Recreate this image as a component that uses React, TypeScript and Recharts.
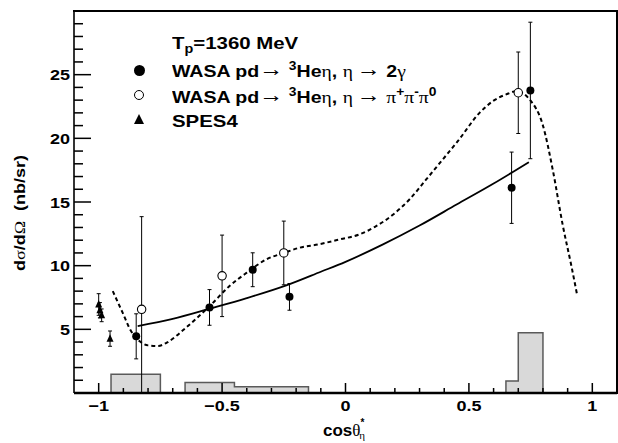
import React from 'react';
import {
  ComposedChart, XAxis, YAxis, Scatter, Line, Area, ErrorBar,
} from 'recharts';

// ---- data ----
const wasa2gX = [-0.848, -0.551, -0.376, -0.227, 0.673, 0.749];
const wasa2gY = [4.45, 6.72, 9.68, 7.55, 16.12, 23.76];
const wasa2gErr = [1.77, 1.4, 1.33, 1.05, 2.8, 5.36];

const wasa3piX = [-0.826, -0.5, -0.25, 0.7];
const wasa3piY = [6.57, 9.2, 11.0, 23.58];
const wasa3piErrLow = [6.57, 3.2, 2.5, 3.2];
const wasa3piErrHigh = [7.28, 3.2, 2.5, 3.2];

const spesX = [-1.0, -0.995, -0.988, -0.954];
const spesY = [6.95, 6.5, 6.1, 4.27];
const spesErr = [0.85, 0.6, 0.5, 0.6];

const fitX = [-0.842, -0.7, -0.55, -0.4, -0.24, -0.1, 0, 0.15, 0.3, 0.45, 0.6, 0.743];
const fitY = [5.26, 5.82, 6.62, 7.45, 8.45, 9.52, 10.3, 11.65, 13.15, 14.8, 16.45, 18.13];

const modelX = [-0.943, -0.903, -0.869, -0.835, -0.8, -0.76, -0.72, -0.66, -0.605, -0.55, -0.47, -0.4, -0.32, -0.25, -0.186, -0.11, -0.024, 0.057, 0.124, 0.192, 0.259, 0.327, 0.394, 0.455, 0.543, 0.597, 0.651, 0.692, 0.746, 0.8, 0.84, 0.88, 0.915, 0.938];
const modelY = [8.0, 6.31, 4.87, 4.08, 3.74, 3.69, 4.0, 4.9, 5.84, 6.83, 8.4, 9.45, 10.5, 11.0, 11.41, 11.67, 12.06, 12.46, 13.1, 14.0, 15.2, 16.77, 18.34, 19.78, 22.0, 22.92, 23.45, 23.7, 23.05, 21.0, 17.5, 13.2, 10.0, 7.75];

// acceptance histogram bins
const binLo = [-0.95, -0.65, -0.45, 0.65, 0.7];
const binHi = [-0.75, -0.45, -0.15, 0.7, 0.8];
const binH = [1.47, 0.82, 0.5, 0.94, 4.74];

const xTicks = [-1.0, -0.9, -0.8, -0.7, -0.6, -0.5, -0.4, -0.3, -0.2, -0.1, 0, 0.1, 0.2, 0.3, 0.4, 0.5, 0.6, 0.7, 0.8, 0.9, 1.0];
const yTicks = [1, 2, 3, 4, 5, 6, 7, 8, 9, 10, 11, 12, 13, 14, 15, 16, 17, 18, 19, 20, 21, 22, 23, 24, 25, 26, 27, 28, 29];
const xMajor = [-1, -0.5, 0, 0.5, 1];
const xMajorLabels = ['\u22121', '\u22120.5', '0', '0.5', '1'];
const yMajor = [5, 10, 15, 20, 25];

// ---- derived tables ----
const wasa2g = wasa2gX.map((x, i) => ({ x, y: wasa2gY[i], e: [wasa2gErr[i], wasa2gErr[i]] }));
const wasa3pi = wasa3piX.map((x, i) => ({ x, y: wasa3piY[i], e: [wasa3piErrLow[i], wasa3piErrHigh[i]] }));
const spes = spesX.map((x, i) => ({ x, y: spesY[i], e: [spesErr[i], spesErr[i]] }));
const fit = fitX.map((x, i) => ({ x, y: fitY[i] }));
const model = modelX.map((x, i) => ({ x, y: modelY[i] }));

const histFill: { x: number; y: number }[] = [];
const histOutline: { x: number; y: number | null }[] = [];
binLo.forEach((lo, i) => {
  const prevTouches = i > 0 && Math.abs(binHi[i - 1] - lo) < 1e-9;
  const nextTouches = i < binLo.length - 1 && Math.abs(binLo[i + 1] - binHi[i]) < 1e-9;
  if (!prevTouches) {
    histFill.push({ x: lo, y: 0 });
    histOutline.push({ x: lo, y: 0 });
  }
  histFill.push({ x: lo, y: binH[i] });
  histOutline.push({ x: lo, y: binH[i] });
  if (!nextTouches) {
    histFill.push({ x: binHi[i], y: 0 });
    histOutline.push({ x: binHi[i], y: 0 });
    histOutline.push({ x: binHi[i], y: null });
  }
});

const SANS = '"Liberation Sans", Arial, Helvetica, sans-serif';
const SERIF = '"Liberation Serif", "DejaVu Serif", serif';

// tick marks drawn as filled rects (inside the frame), labels outside
const XTick = (props: any) => {
  const { x, y, payload } = props;
  const v = payload.value;
  const mi = xMajor.findIndex((m) => Math.abs(m - v) < 1e-6);
  const major = mi >= 0;
  const len = major ? 10 : 5;
  return (
    <g>
      <rect x={x - 0.75} y={y - len} width={1.5} height={len} fill="#000" stroke="none" />
      {major && (
        <g transform={`translate(${x},${y + 18}) scale(1.2,1)`}>
          <text textAnchor="middle" fontFamily={SANS} fontWeight="bold" fontSize={15} fill="#000" stroke="none">
            {xMajorLabels[mi]}
          </text>
        </g>
      )}
    </g>
  );
};

const YTick = (props: any) => {
  const { x, y, payload } = props;
  const v = payload.value;
  const major = yMajor.includes(v);
  const len = major ? 17 : 9;
  return (
    <g>
      <rect x={x} y={y - 0.75} width={len} height={1.5} fill="#000" stroke="none" />
      {major && (
        <g transform={`translate(${x - 4},${y + 5.5}) scale(1.2,1)`}>
          <text textAnchor="end" fontFamily={SANS} fontWeight="bold" fontSize={15} fill="#000" stroke="none">
            {v}
          </text>
        </g>
      )}
    </g>
  );
};

const FilledDot = (p: any) => <circle cx={p.cx} cy={p.cy} r={4} fill="#000" />;
const OpenDot = (p: any) => <circle cx={p.cx} cy={p.cy} r={4.2} fill="#fff" stroke="#000" strokeWidth={1.1} />;
const Tri = (p: any) => (
  <polygon points={`${p.cx},${p.cy - 4.5} ${p.cx - 3.5},${p.cy + 3} ${p.cx + 3.5},${p.cy + 3}`} fill="#000" />
);

// ---- HTML text overlays ----
const lineStyle = (top: number, sx: number): React.CSSProperties => ({
  position: 'absolute', left: 172, top, fontFamily: SANS, fontWeight: 'bold', fontSize: 17,
  lineHeight: '17px', whiteSpace: 'nowrap', transform: `scaleX(${sx})`, transformOrigin: '0 0', color: '#000',
});
const symS: React.CSSProperties = { fontFamily: SERIF, fontWeight: 'normal' };
const arrS: React.CSSProperties = { fontFamily: SERIF, fontWeight: 'normal', fontSize: 21, position: 'relative', top: -1 };
const supS: React.CSSProperties = { fontSize: 12, position: 'relative', top: -7 };
const subS: React.CSSProperties = { fontSize: 12, position: 'relative', top: 4 };

export default function App() {
  return (
    <div style={{ position: 'relative', width: 618, height: 443 }}>
      <style>{'body{margin:0;}'}</style>
      <ComposedChart width={618} height={443} margin={{ top: 11, right: 1, bottom: 0, left: 0 }}>
        <XAxis
          dataKey="x"
          type="number"
          domain={[-1.1, 1.1]}
          ticks={xTicks}
          interval={0}
          tickSize={0}
          tickMargin={0}
          tickLine={false}
          tick={XTick}
          height={50}
          allowDataOverflow
          axisLine={{ stroke: '#000', strokeWidth: 2.5 }}
        />
        <YAxis
          type="number"
          domain={[0, 30]}
          ticks={yTicks}
          interval={0}
          tickSize={0}
          tickMargin={0}
          tickLine={false}
          tick={YTick}
          width={74}
          allowDataOverflow
          axisLine={{ stroke: '#000', strokeWidth: 1.6 }}
        />
        <Area data={histFill} dataKey="y" type="stepAfter" fill="#d9d9d9" fillOpacity={1} stroke="none" isAnimationActive={false} dot={false} activeDot={false} />
        <Line data={histOutline} dataKey="y" type="stepAfter" stroke="#5a5a5a" strokeWidth={1.5} dot={false} activeDot={false} connectNulls={false} isAnimationActive={false} />
        <Line data={fit} dataKey="y" type="monotone" stroke="#000" strokeWidth={1.8} dot={false} activeDot={false} isAnimationActive={false} />
        <Line data={model} dataKey="y" type="monotone" stroke="#000" strokeWidth={2} strokeDasharray="4 3" dot={false} activeDot={false} isAnimationActive={false} />
        <Scatter data={spes} dataKey="y" shape={Tri} isAnimationActive={false}>
          <ErrorBar dataKey="e" direction="y" width={2} stroke="#000" strokeWidth={1} />
        </Scatter>
        <Scatter data={wasa3pi} dataKey="y" shape={OpenDot} isAnimationActive={false}>
          <ErrorBar dataKey="e" direction="y" width={2} stroke="#000" strokeWidth={1} />
        </Scatter>
        <Scatter data={wasa2g} dataKey="y" shape={FilledDot} isAnimationActive={false}>
          <ErrorBar dataKey="e" direction="y" width={2} stroke="#000" strokeWidth={1} />
        </Scatter>
      </ComposedChart>

      {/* top and right edges of the plot frame */}
      <div style={{ position: 'absolute', left: 73, top: 10, width: 545, height: 384, borderTop: '2px solid #000', borderRight: '2px solid #000', boxSizing: 'border-box', pointerEvents: 'none' }} />

      {/* legend markers */}
      <div style={{ position: 'absolute', left: 133.5, top: 64.5, width: 11, height: 11, borderRadius: '50%', background: '#000' }} />
      <div style={{ position: 'absolute', left: 133.7, top: 89.7, width: 10.6, height: 10.6, borderRadius: '50%', background: '#fff', border: '1.2px solid #000', boxSizing: 'border-box' }} />
      <div style={{ position: 'absolute', left: 133.5, top: 114, width: 0, height: 0, borderLeft: '5.5px solid transparent', borderRight: '5.5px solid transparent', borderBottom: '10.5px solid #000' }} />

      {/* legend text */}
      <div style={lineStyle(34.6, 1.2)}>
        T<span style={subS}>p</span>=1360 MeV
      </div>
      <div style={lineStyle(61.6, 1.15)}>
        WASA pd<span style={arrS}>{'\u2192'}</span> <span style={supS}>3</span>He<span style={symS}>{'\u03b7'}</span>, <span style={symS}>{'\u03b7'}</span>{'\u2009'}<span style={arrS}>{'\u2192'}</span> 2<span style={symS}>{'\u03b3'}</span>
      </div>
      <div style={lineStyle(87.6, 1.15)}>
        WASA pd<span style={arrS}>{'\u2192'}</span> <span style={supS}>3</span>He<span style={symS}>{'\u03b7'}</span>, <span style={symS}>{'\u03b7'}</span>{'\u2009'}<span style={arrS}>{'\u2192'}</span> <span style={symS}>{'\u03c0'}</span><span style={supS}>+</span><span style={symS}>{'\u03c0'}</span><span style={supS}>-</span><span style={symS}>{'\u03c0'}</span><span style={supS}>0</span>
      </div>
      <div style={lineStyle(112.6, 1.2)}>SPES4</div>

      {/* y axis title */}
      <div style={{ position: 'absolute', left: 20, top: 213, width: 0, height: 0 }}>
        <div style={{ position: 'absolute', left: 0, top: 0, fontFamily: SANS, fontWeight: 'bold', fontSize: 15, lineHeight: '15px', whiteSpace: 'nowrap', transform: 'translate(-50%,-50%) rotate(-90deg) scaleX(1.2)', color: '#000' }}>
          d<span style={symS}>{'\u03c3'}</span>/d<span style={symS}>{'\u03a9'}</span>{'\u00a0\u00a0'}(nb/sr)
        </div>
      </div>

      {/* x axis title */}
      <div style={{ position: 'absolute', left: 323, top: 422, fontFamily: SANS, fontWeight: 'bold', fontSize: 17, lineHeight: '17px', whiteSpace: 'nowrap', color: '#000' }}>
        cos<span style={symS}>{'\u03b8'}</span><span style={{ fontSize: 10, position: 'relative', top: -10 }}>*</span><span style={{ ...symS, fontSize: 11, position: 'relative', top: 3, marginLeft: -5 }}>{'\u03b7'}</span>
      </div>
    </div>
  );
}
